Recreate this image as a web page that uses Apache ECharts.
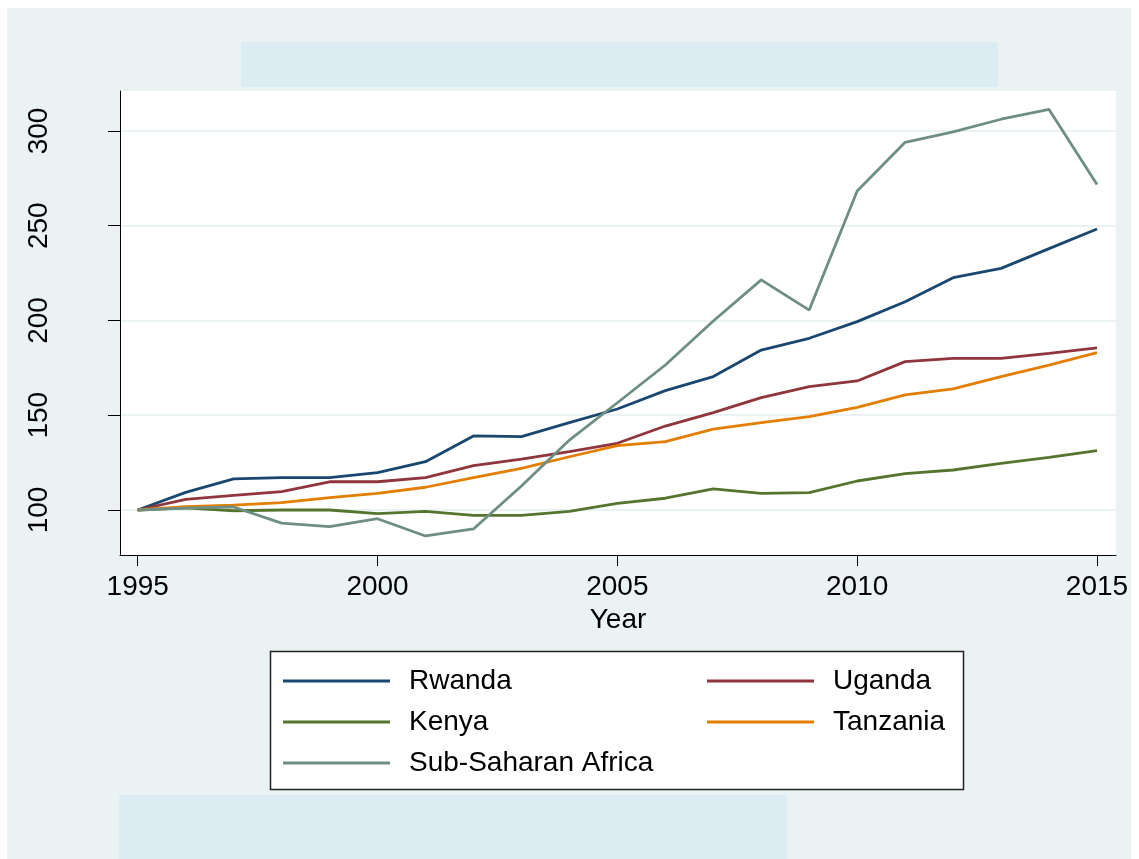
<!DOCTYPE html>
<html>
<head>
<meta charset="utf-8">
<script src="https://cdn.jsdelivr.net/npm/echarts@6/dist/echarts.min.js"></script>
<style>
html,body{margin:0;padding:0;background:#ffffff;}
#chart{width:1139px;height:859px;}
</style>
</head>
<body>
<div id="chart"></div>
<script>
const years = [1995,1996,1997,1998,1999,2000,2001,2002,2003,2004,2005,2006,2007,2008,2009,2010,2011,2012,2013,2014,2015];
const rwanda = [100,109.3,116.4,117.1,117.1,119.7,125.5,139.1,138.7,146.1,153.3,163.0,170.4,184.4,190.6,199.4,209.9,222.6,227.5,237.9,248.3];
const uganda = [100,105.6,107.7,109.7,114.9,114.9,117.1,123.4,126.9,130.8,135.2,144.3,151.4,159.3,165.1,168.1,178.3,180.0,180.0,182.7,185.5];
const kenya = [100,101.1,99.6,100,100,98.1,99.3,97.2,97.2,99.3,103.5,106.2,111.1,108.8,109.2,115.3,119.2,121.1,124.6,127.8,131.3];
const tanzania = [100,101.8,102.6,103.9,106.5,108.8,112.0,117.1,122.0,128.1,134.0,136.1,142.7,146.1,149.3,154.2,160.7,163.9,170.4,176.5,183.0];
const ssa = [100,101.0,101.6,93.1,91.2,95.4,86.3,90.0,112.7,136.9,156.6,176.5,199.7,221.4,205.5,268.3,294.0,299.5,306.2,311.4,271.7];
const xTicks = [1995,2000,2005,2010,2015];
const yTicks = [100,150,200,250,300];
const seriesNames = ['Rwanda','Uganda','Kenya','Tanzania','Sub-Saharan Africa'];
const seriesValues = [rwanda, uganda, kenya, tanzania, ssa];
const colors = ['#1A476F','#90353B','#55752F','#E37E00','#6E8E84'];

const FONT = '"Liberation Sans", Arial, sans-serif';
const chart = echarts.init(document.getElementById('chart'), null, {renderer:'canvas'});

const series = seriesNames.map((n,i)=>({
  name:n, type:'line', symbol:'none', silent:true,
  data: years.map((y,j)=>[y, seriesValues[i][j]]),
  lineStyle:{color:colors[i], width:2.8},
  itemStyle:{color:colors[i]},
  z: 3
}));

const legendCommon = {
  orient:'vertical', itemWidth:107, itemHeight:3, itemGap:11, padding:0,
  icon:'rect',
  textStyle:{fontFamily:FONT, fontSize:28, color:'#000', lineHeight:30, padding:[0,0,0,14]},
  selectedMode:false, z:5
};

chart.setOption({
  animation:false,
  backgroundColor:'#ffffff',
  color: colors,
  graphic:[
    {type:'rect', z:-100, shape:{x:7,y:8,width:1124,height:851}, style:{fill:'#EAF2F3'}},
    {type:'rect', z:-90, shape:{x:241,y:42,width:757,height:45}, style:{fill:'#DBECF2'}},
    {type:'rect', z:-90, shape:{x:119,y:795,width:668,height:64}, style:{fill:'#DBECF2'}},
    {type:'rect', z:1, shape:{x:270.5,y:651.5,width:693,height:138}, style:{fill:'#ffffff', stroke:'#222', lineWidth:1.5}}
  ],
  grid:{left:120, top:91, width:996, height:464, show:true, backgroundColor:'#ffffff', borderWidth:0},
  xAxis:{
    type:'value', min:1994.631, max:2015.396,
    name:'Year', nameLocation:'middle', nameGap:50,
    nameTextStyle:{fontFamily:FONT, fontSize:28, color:'#000'},
    axisLine:{show:true, onZero:false, lineStyle:{color:'#000', width:1}},
    axisTick:{show:true, length:11, customValues:xTicks, lineStyle:{color:'#000'}},
    axisLabel:{customValues:xTicks, margin:18, fontFamily:FONT, fontSize:28, color:'#000', formatter:v=>String(v)},
    splitLine:{show:false}
  },
  yAxis:{
    type:'value', min:76.25, max:321.1,
    axisLine:{show:true, onZero:false, lineStyle:{color:'#000', width:1}},
    axisTick:{show:true, length:12, customValues:yTicks, lineStyle:{color:'#000'}},
    axisLabel:{customValues:yTicks, rotate:90, margin:67, fontFamily:FONT, fontSize:28, color:'#000', formatter:v=>String(v)},
    splitLine:{show:true, lineStyle:{color:'#EAF2F3', width:2}}
  },
  legend:[
    Object.assign({}, legendCommon, {data:['Rwanda','Kenya','Sub-Saharan Africa'], left:283, top:666}),
    Object.assign({}, legendCommon, {data:['Uganda','Tanzania'], left:707, top:666})
  ],
  series: series
});
</script>
</body>
</html>
